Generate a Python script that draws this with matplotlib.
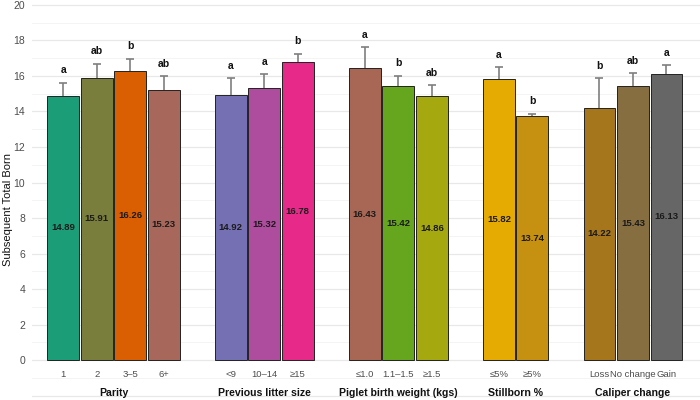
import matplotlib.pyplot as plt

# ---------------- data ----------------
groups = ['Parity', 'Previous litter size', 'Piglet birth weight (kgs)', 'Stillborn %', 'Caliper change']
levels = [['1', '2', '3–5', '6+'],
          ['<9', '10–14', '≥15'],
          ['≤1.0', '1.1–1.5', '≥1.5'],
          ['≤5%', '≥5%'],
          ['Loss', 'No change', 'Gain']]
means = [[14.89, 15.91, 16.26, 15.23],
         [14.92, 15.32, 16.78],
         [16.43, 15.42, 14.86],
         [15.82, 13.74],
         [14.22, 15.43, 16.13]]
errors = [[0.72, 0.77, 0.71, 0.75],
          [0.97, 0.77, 0.48],
          [1.20, 0.60, 0.63],
          [0.67, 0.14],
          [1.67, 0.74, 0.49]]
letters = [['a', 'ab', 'b', 'ab'],
           ['a', 'a', 'b'],
           ['a', 'b', 'ab'],
           ['a', 'b'],
           ['b', 'ab', 'a']]

# Dark2 stretched to 15 colours
colors = ['#1B9E77', '#7A7E3C', '#D95F02', '#A7675A', '#7570B3',
          '#AE4C9E', '#E7298A', '#A76754', '#66A61E', '#A6A810',
          '#E6AB02', '#C69010', '#A6761D', '#866E41', '#666666']

plt.rcParams['font.family'] = ['Liberation Sans', 'DejaVu Sans']

fig = plt.figure(figsize=(7, 4), dpi=100)
ax = fig.add_axes([32 / 700, 0, 668 / 700, 1])

# positions: one empty slot between groups
pos, centers = [], []
x = 0
for lv in levels:
    start = x
    for _ in lv:
        pos.append(x)
        x += 1
    centers.append((start + x - 1) / 2)
    x += 1

flat_m = [v for g in means for v in g]
flat_e = [v for g in errors for v in g]
flat_l = [v for g in letters for v in g]
flat_lv = [v for g in levels for v in g]

ax.bar(pos, flat_m, width=0.95, color=colors, edgecolor='#222222', linewidth=0.7, zorder=2)
tops = [m + e for m, e in zip(flat_m, flat_e)]
ax.vlines(pos, flat_m, tops, color='#7f7f7f', linewidth=1.2, zorder=3)
ax.hlines(tops, [p - 0.12 for p in pos], [p + 0.12 for p in pos], color='#7f7f7f', linewidth=1.2, zorder=3)

for p, m, t, l, lv in zip(pos, flat_m, tops, flat_l, flat_lv):
    ax.text(p, t + 0.7, l, ha='center', va='center', fontsize=7.5, fontweight='bold', color='#111111')
    ax.text(p, m / 2, f'{m:.2f}', ha='center', va='center', fontsize=6.8, fontweight='bold', color='#1a1a1a', zorder=4)
    ax.text(p, -0.8, lv, ha='center', va='center', fontsize=6.8, color='#4d4d4d')

for c, g in zip(centers, groups):
    ax.text(c, -1.85, g, ha='center', va='center', fontsize=7.6, fontweight='bold', color='#111111')

ax.set_xlim(-0.93, 19.0)
ax.set_ylim(-2.25, 20.28)
ax.set_yticks(range(-2, 21, 2))
ax.set_yticklabels([''] + [str(v) for v in range(0, 21, 2)])
ax.set_yticks(range(-1, 20, 2), minor=True)
ax.set_xticks([])
ax.tick_params(axis='y', which='both', length=0, pad=5, labelsize=7.5, labelcolor='#4d4d4d')
ax.grid(axis='y', which='major', color='#e8e8e8', linewidth=0.9, zorder=0)
ax.grid(axis='y', which='minor', color='#f3f3f3', linewidth=0.6, zorder=0)
ax.set_axisbelow(True)
for s in ax.spines.values():
    s.set_visible(False)

fig.text(0.012, 0.475, 'Subsequent Total Born', rotation=90, ha='center', va='center', fontsize=8, color='#111111')

fig.savefig('out.png', dpi=100)
